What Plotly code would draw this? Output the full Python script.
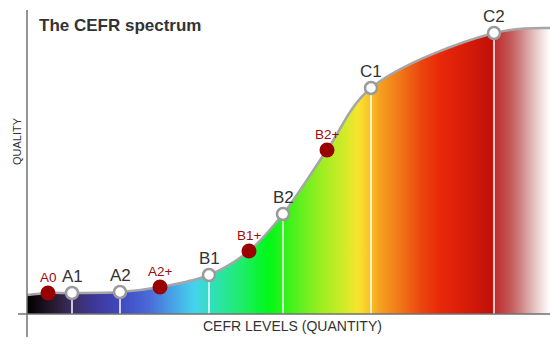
import plotly.graph_objects as go

# Curve anchor points (x: quantity, y: quality)
curve_x = [0, 21, 45, 93, 133, 182, 222, 256, 300, 344, 467, 523]
curve_y = [19, 21, 21, 22, 27, 39, 63, 100, 164, 226, 281, 286]

# Main levels (white markers)
main_labels = ["A1", "A2", "B1", "B2", "C1", "C2"]
main_x = [45, 93, 182, 256, 344, 467]
main_y = [21, 22, 39, 100, 226, 281]

# Intermediate levels (red markers)
plus_labels = ["A0", "A2+", "B1+", "B2+"]
plus_x = [21, 133, 222, 300]
plus_y = [21, 27, 63, 164]

X_MAX = 523
Y_MAX = 304

grad = [
    [0.000, "#000000"], [0.025, "#140c18"], [0.054, "#2a1c34"], [0.086, "#3a2d62"],
    [0.130, "#3e3898"], [0.178, "#4048c0"], [0.235, "#4a6cd8"], [0.283, "#48a8e8"],
    [0.321, "#44d4ec"], [0.354, "#30e0b8"], [0.407, "#20ec70"], [0.461, "#00f818"],
    [0.489, "#28f418"], [0.522, "#60f020"], [0.560, "#98ee20"], [0.608, "#d4ea28"],
    [0.633, "#f8e430"], [0.652, "#f8c828"], [0.675, "#f4a020"], [0.713, "#f07818"],
    [0.751, "#ec4810"], [0.790, "#e82808"], [0.847, "#d41a08"], [0.889, "#c01008"],
    [0.897, "#c03030"], [0.924, "#c45858"], [0.946, "#d08888"], [0.971, "#e6c4c4"],
    [0.990, "#f6ecec"], [1.000, "#ffffff"],
]

FONT = "Liberation Sans, Arial"

fig = go.Figure()

# gradient fill
fig.add_trace(go.Scatter(
    x=curve_x, y=curve_y, mode="lines", line=dict(width=0, shape="spline"),
    fill="tozeroy",
    fillgradient=dict(type="horizontal", colorscale=grad, start=0, stop=X_MAX),
    hoverinfo="skip", showlegend=False,
))

# white drop lines
vx, vy = [], []
for x, y in zip(main_x, main_y):
    vx += [x, x, None]
    vy += [0, y, None]
fig.add_trace(go.Scatter(x=vx, y=vy, mode="lines", line=dict(color="white", width=1.5),
                         hoverinfo="skip", showlegend=False))

# curve outline
fig.add_trace(go.Scatter(
    x=curve_x, y=curve_y, mode="lines",
    line=dict(color="#a6a6a6", width=2.5, shape="spline"),
    hoverinfo="skip", showlegend=False, cliponaxis=False,
))

# red intermediate markers
fig.add_trace(go.Scatter(
    x=plus_x, y=plus_y, mode="markers",
    marker=dict(size=15, color="#990000", line=dict(width=0)),
    showlegend=False, cliponaxis=False,
))

# white main markers
fig.add_trace(go.Scatter(
    x=main_x, y=main_y, mode="markers",
    marker=dict(size=12, color="white", line=dict(width=2.5, color="#9a9a9a")),
    showlegend=False, cliponaxis=False,
))

axis_color = "#707070"
shapes = [
    dict(type="line", xref="paper", yref="paper", x0=0, x1=0, y0=-23 / Y_MAX, y1=1,
         line=dict(color=axis_color, width=1.5), layer="above"),
    dict(type="line", xref="paper", yref="paper", x0=-9 / X_MAX, x1=1, y0=0, y1=0,
         line=dict(color=axis_color, width=1.5), layer="above"),
]

annotations = [
    dict(text="<b>The CEFR spectrum</b>", xref="paper", yref="paper",
         x=10 / X_MAX, y=1 - 16 / Y_MAX, xanchor="left", yanchor="middle",
         showarrow=False, font=dict(family=FONT, size=17, color="#333333")),
    dict(text="CEFR LEVELS (QUANTITY)", xref="paper", yref="paper",
         x=(292 - 27) / X_MAX, y=-12 / Y_MAX, xanchor="center", yanchor="middle",
         showarrow=False, font=dict(family=FONT, size=14, color="#333333")),
    dict(text="QUALITY", xref="paper", yref="paper",
         x=-10 / X_MAX, y=(314 - 141) / Y_MAX, xanchor="center", yanchor="middle",
         textangle=-90, showarrow=False,
         font=dict(family=FONT, size=11, color="#333333")),
]

for lab, x, y in zip(main_labels, main_x, main_y):
    annotations.append(dict(text=lab, x=x, y=y, xref="x", yref="y", showarrow=False,
                            xanchor="center", yanchor="middle", yshift=17,
                            font=dict(family=FONT, size=17, color="#333333")))
for lab, x, y in zip(plus_labels, plus_x, plus_y):
    annotations.append(dict(text=lab, x=x, y=y, xref="x", yref="y", showarrow=False,
                            xanchor="center", yanchor="middle", yshift=16,
                            font=dict(family=FONT, size=13.5, color="#a00a0a")))

fig.update_layout(
    width=550, height=358,
    margin=dict(l=27, r=0, t=10, b=44),
    paper_bgcolor="white", plot_bgcolor="white",
    xaxis=dict(range=[0, X_MAX], visible=False, fixedrange=True),
    yaxis=dict(range=[0, Y_MAX], visible=False, fixedrange=True),
    shapes=shapes, annotations=annotations,
    showlegend=False,
)

fig.write_html(
    "out.html",
    config={"displayModeBar": False},
    post_script="document.documentElement.style.margin='0';document.body.style.margin='0';document.body.style.padding='0';",
)
